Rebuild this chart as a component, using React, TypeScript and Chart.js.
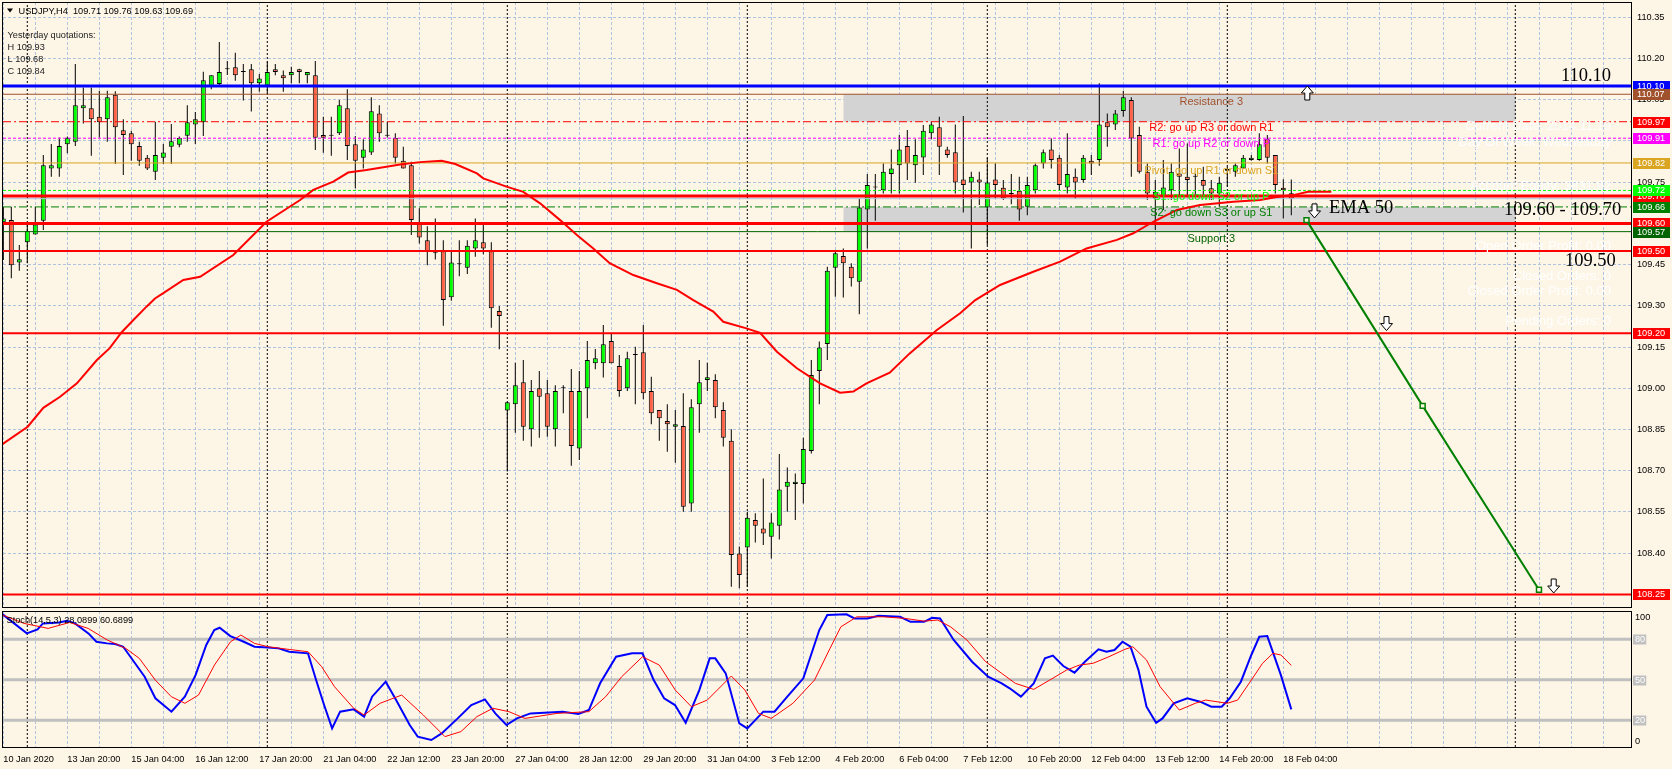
import React, { useEffect, useRef } from 'react';
import { Chart, registerables } from 'chart.js';

Chart.register(...registerables);

const SANS = '"Liberation Sans", Arial, sans-serif';
const SERIF = '"Liberation Serif", "Times New Roman", serif';
const BG = '#FDF5E6';
const GRID = '#B0C4DE';
const BULL = '#00FF00';
const BEAR = '#FF6347';

// ---------- USDJPY H4 candles, bar 0 = 10 Jan 2020 12:00 ... bar 161 = 18 Feb 2020 08:00
const opens = [109.604,109.612,109.458,109.531,109.560,109.610,109.800,109.800,109.888,109.897,
110.019,110.019,109.988,109.979,110.068,109.939,109.928,109.882,109.839,109.788,
109.839,109.879,109.886,109.919,109.960,109.968,110.100,110.107,110.161,110.168,
110.151,110.161,110.110,110.102,110.161,110.139,110.139,110.161,110.139,110.139,
109.922,109.919,109.928,110.019,109.888,109.839,109.858,110.000,109.919,109.912,
109.828,109.812,109.598,109.539,109.491,109.499,109.331,109.451,109.439,109.509,
109.531,109.499,109.281,108.919,108.942,109.022,108.851,109.000,108.982,108.851,
109.000,108.990,108.781,109.000,109.091,109.091,109.172,109.081,109.000,109.121,
109.131,108.990,108.921,108.881,108.860,108.863,108.581,108.942,109.030,109.030,
108.921,108.809,108.399,108.421,108.521,108.490,108.460,108.500,108.642,108.652,
108.652,108.772,109.063,109.161,109.439,109.481,109.442,109.388,109.651,109.731,
109.721,109.780,109.812,109.882,109.812,109.840,109.928,109.950,109.869,109.859,
109.760,109.749,109.760,109.658,109.760,109.730,109.709,109.719,109.661,109.721,
109.818,109.869,109.839,109.731,109.770,109.758,109.828,109.831,109.968,109.960,
110.009,110.049,109.922,109.788,109.691,109.697,109.721,109.782,109.770,109.770,
109.758,109.728,109.709,109.792,109.788,109.800,109.831,109.831,109.906,109.849,
109.730,109.710];
const highs = [109.661,109.661,109.521,109.606,109.661,109.849,109.889,109.913,109.916,110.180,
110.095,110.095,110.083,110.083,110.081,109.979,109.937,109.897,109.849,109.970,
109.889,109.962,109.916,110.030,110.005,110.152,110.139,110.260,110.191,110.221,
110.180,110.180,110.144,110.189,110.180,110.156,110.170,110.163,110.151,110.191,
109.988,109.988,110.049,110.088,109.918,109.906,110.059,110.030,109.970,109.928,
109.879,109.824,109.655,109.590,109.618,109.539,109.499,109.539,109.539,109.618,
109.594,109.531,109.299,108.949,109.093,109.103,109.030,109.063,109.030,109.011,
109.011,109.070,109.063,109.172,109.143,109.230,109.200,109.121,109.133,109.151,
109.230,109.042,108.921,108.942,108.921,108.982,108.960,109.103,109.093,109.051,
108.949,108.851,108.424,108.551,108.545,108.672,108.545,108.761,108.712,108.690,
108.820,109.103,109.170,109.442,109.503,109.509,109.455,109.691,109.780,109.780,
109.818,109.869,109.922,109.940,109.906,109.958,109.970,109.988,109.879,109.960,
109.991,109.788,109.788,109.839,109.818,109.758,109.780,109.770,109.770,109.818,
109.869,109.909,109.849,109.928,109.800,109.849,109.849,110.110,110.000,110.013,
110.083,110.059,109.952,109.818,109.758,109.831,109.818,109.873,109.891,109.782,
109.806,109.758,109.770,109.806,109.818,109.849,109.849,109.928,109.922,109.849,
109.761,109.760];
const lows = [109.467,109.400,109.428,109.455,109.560,109.576,109.770,109.770,109.855,109.882,
109.964,109.846,109.913,109.897,109.816,109.776,109.828,109.810,109.794,109.758,
109.816,109.816,109.877,109.897,109.889,109.918,110.088,110.100,110.140,110.119,
110.047,110.007,110.079,110.071,110.139,110.079,110.110,110.110,110.110,109.867,
109.857,109.846,109.922,109.831,109.728,109.800,109.849,109.897,109.913,109.818,
109.800,109.558,109.527,109.448,109.469,109.228,109.319,109.408,109.416,109.479,
109.488,109.220,109.142,108.697,108.838,108.809,108.788,108.820,108.824,108.788,
108.909,108.718,108.739,108.891,109.069,109.039,109.091,108.969,108.990,108.942,
108.960,108.869,108.809,108.769,108.729,108.551,108.551,108.838,108.990,108.891,
108.788,108.278,108.272,108.278,108.439,108.430,108.381,108.450,108.551,108.521,
108.581,108.763,108.942,109.103,109.333,109.330,109.370,109.269,109.509,109.610,
109.709,109.709,109.709,109.758,109.748,109.776,109.906,109.776,109.839,109.709,
109.640,109.509,109.667,109.521,109.691,109.685,109.670,109.610,109.630,109.709,
109.800,109.800,109.721,109.709,109.689,109.748,109.776,109.810,109.879,109.940,
109.988,109.770,109.782,109.685,109.576,109.649,109.685,109.697,109.697,109.697,
109.697,109.685,109.661,109.734,109.770,109.800,109.828,109.828,109.818,109.709,
109.618,109.630];
const closes = [109.618,109.448,109.470,109.572,109.596,109.812,109.812,109.882,109.912,110.030,
110.030,109.979,109.968,110.059,109.950,109.922,109.888,109.828,109.800,109.849,
109.858,109.899,109.911,109.968,109.979,110.121,110.139,110.151,110.161,110.139,
110.151,110.110,110.127,110.151,110.151,110.128,110.151,110.151,110.151,109.912,
109.912,109.919,110.030,109.882,109.828,109.869,110.008,109.928,109.919,109.839,
109.800,109.612,109.549,109.497,109.491,109.321,109.458,109.451,109.519,109.539,
109.509,109.291,109.263,108.949,109.011,108.860,108.990,108.969,108.860,108.990,
109.000,108.790,108.990,109.103,109.109,109.160,109.091,108.990,109.109,109.121,
108.982,108.909,108.891,108.869,108.869,108.569,108.931,109.022,109.040,108.931,
108.820,108.393,108.321,108.529,108.500,108.472,108.512,108.632,108.660,108.660,
108.779,109.048,109.148,109.428,109.491,109.455,109.400,109.658,109.740,109.731,
109.788,109.800,109.869,109.818,109.849,109.937,109.960,109.879,109.849,109.749,
109.740,109.770,109.749,109.749,109.740,109.691,109.707,109.651,109.740,109.812,
109.859,109.831,109.740,109.780,109.749,109.839,109.818,109.960,109.950,110.000,
110.059,109.909,109.788,109.709,109.715,109.731,109.788,109.770,109.758,109.770,
109.737,109.709,109.748,109.798,109.812,109.839,109.839,109.888,109.839,109.740,
109.721,109.690];

// ---------- EMA 50 (bar position / value)
const emaBars = [-0.4,3.05,5,7.1,9.2,11.7,13.3,14.8,16.05,17.9,18.96,20,22.5,24.6,28.75,32.9,37.1,38.75,41.25,43.1,
45.4,49.6,52.1,54.8,56.5,59.2,60,62.9,65,67.1,69.6,71.7,73.75,75.8,78.75,81.7,84.2,86.25,88.75,90,
92.9,94.6,96.7,99.2,102.1,104.6,106.25,107.9,110.8,113.3,116.7,119.6,121.5,124.6,128.75,132.1,135.4,139.2,141.25,143.75,
146.7,149.6,153.75,157.1,159,161.25,163.1,166];
const emaValues = [108.791,108.860,108.929,108.969,109.018,109.103,109.146,109.204,109.242,109.297,109.327,109.346,109.394,109.406,109.485,109.606,109.685,109.722,109.752,109.785,
109.794,109.814,109.823,109.828,109.816,109.782,109.764,109.734,109.715,109.673,109.612,109.558,109.509,109.455,109.412,109.382,109.358,109.321,109.279,109.242,
109.218,109.202,109.133,109.073,109.018,108.984,108.988,109.018,109.057,109.127,109.212,109.273,109.321,109.376,109.424,109.461,109.509,109.540,109.564,109.606,
109.649,109.667,109.679,109.685,109.695,109.703,109.715,109.715];

// ---------- Stochastic (14,5,3)
const stochKBars = [-0.08,2.94,4.28,4.95,6.96,7.96,8.96,10.64,11.64,12.98,13.99,14.99,16.33,17.67,19.01,21.02,22.69,24.03,25.37,26.37,
27.04,28.38,30.06,31.4,33.07,34.41,35.75,38.09,39.1,40.1,41.1,42.1,43.8,45.1,46.1,47.8,49.1,50.8,51.8,53.5,
54.8,56.8,58.5,60.2,61.5,62.9,64.2,65.9,69.9,71.9,73.2,74.6,76.6,78.6,79.9,81.3,82.6,83.96,85.3,87.0,
88.3,89.0,90.3,92.0,93.0,95.0,96.4,98.0,100.0,102.0,103.0,105.4,106.4,108.0,109.4,112.1,113.4,115.1,116.1,117.1,
118.8,121.1,123.1,124.8,125.8,127.2,128.8,130.2,131.2,132.5,133.9,135.2,136.9,137.9,138.9,139.9,140.9,141.9,142.9,144.1,
144.9,146.3,148.0,149.6,151.0,152.3,153.3,154.7,156.0,157.0,158.0,159.7,161.0];
const stochKValues = [98.5,84.4,87.4,91.8,92.5,93.8,91.8,84.4,78.2,77.0,76.5,74.5,63.4,52.3,36.3,26.4,37.5,53.5,75.8,86.9,
88.6,82.4,78.2,74.5,74.0,73.3,70.8,69.6,49.8,31.3,14.0,26.4,28.1,22.7,37.5,48.6,35.0,16.5,7.9,5.4,
10.3,21.4,31.3,35.5,25.1,16.5,21.4,25.1,26.4,24.7,27.6,47.4,67.1,69.6,69.6,49.8,36.3,31.3,18.2,42.4,
65.9,65.9,54.8,17.7,14.0,26.4,26.4,37.5,51.1,86.9,98.0,98.5,95.5,95.5,97.5,96.7,93.0,93.0,96.0,95.5,
79.5,63.4,52.3,47.4,43.7,37.5,47.4,65.9,67.9,60.2,55.3,63.4,72.6,70.8,72.1,78.2,74.5,57.2,30.1,18.2,
21.4,32.6,36.3,33.8,30.1,30.1,36.3,48.6,68.4,81.9,82.4,53.5,28.1];
const stochDBars = [-0.08,2.6,5.6,8.3,10.6,13.0,15.3,17.0,19.0,21.0,22.7,24.4,26.4,28.4,29.7,31.4,33.1,35.75,38.1,39.8,
41.4,43.8,45.1,47.1,49.8,52.5,55.2,57.2,59.2,61.2,63.2,65.2,69.2,73.2,75.3,77.3,79.9,82.0,84.0,86.0,
88.0,91.0,92.7,94.4,96.0,98.7,101.4,103.34,104.7,106.7,110.0,112.7,115.1,116.8,118.4,120.45,122.8,124.8,126.5,128.8,
130.8,132.9,134.5,136.2,138.2,140.2,141.2,142.9,144.6,147.0,149.0,150.3,153.0,154.3,156.0,157.4,158.7,159.7,161.0];
const stochDValues = [98.0,91.8,88.1,92.5,88.1,79.5,73.3,65.9,49.8,37.5,32.6,38.7,61.0,78.2,83.2,77.0,74.5,72.5,70.8,59.7,
44.9,28.9,23.9,32.6,38.7,23.9,7.9,11.6,22.7,28.9,26.4,21.4,25.1,26.4,37.5,52.3,67.1,60.9,42.4,30.1,
35.0,52.8,42.4,25.1,21.4,32.6,49.8,73.3,89.3,96.7,96.7,95.5,93.5,94.3,89.3,79.5,63.4,54.8,47.4,42.9,
49.8,57.2,60.9,62.2,67.1,72.6,74.5,64.7,44.9,27.6,32.6,35.0,32.6,35.0,49.8,62.2,69.6,68.4,60.7];
const stochLevels = [80, 50, 20];
const stochScaleLabels = [100, 80, 50, 20, 0];
const stochTitle = 'Stoch(14,5,3) 28.0899 60.6899';

// ---------- axes
const priceTicks = [110.35, 110.2, 110.05, 109.9, 109.75, 109.6, 109.45, 109.3, 109.15, 109.0, 108.85, 108.7, 108.55, 108.4];
const xLabelBars = [0, 8, 16, 24, 32, 40, 48, 56, 64, 72, 80, 88, 96, 104, 112, 120, 128, 136, 144, 152, 160];
const xLabels = ['10 Jan 2020', '13 Jan 20:00', '15 Jan 04:00', '16 Jan 12:00', '17 Jan 20:00', '21 Jan 04:00',
  '22 Jan 12:00', '23 Jan 20:00', '27 Jan 04:00', '28 Jan 12:00', '29 Jan 20:00', '31 Jan 04:00', '3 Feb 12:00',
  '4 Feb 20:00', '6 Feb 04:00', '7 Feb 12:00', '10 Feb 20:00', '12 Feb 04:00', '13 Feb 12:00', '14 Feb 20:00', '18 Feb 04:00'];
const weekSeparatorBars = [3, 33, 63, 93, 123, 153, 189];
const X_MIN = -0.0375;
const X_MAX = 203.5875;
const PRICE_MIN = 108.2041;
const PRICE_MAX = 110.4057;
const STOCH_MIN = 0.2;
const STOCH_MAX = 101;
const GRID_STEP_BARS = 4;

// ---------- horizontal levels
const levelValues = [109.69, 110.10, 110.07, 109.97, 109.91, 109.82, 109.70, 109.72, 109.66, 109.60, 109.57, 109.50, 109.20, 108.25];
const levelColors = ['#B0C4DE', '#0000FF', '#A0522D', '#FF0000', '#FF00FF', '#DAA520', '#FF0000', '#00FF00', '#008000', '#FF0000', '#006400', '#FF0000', '#FF0000', '#FF0000'];
const levelWidths = [1, 3, 1, 1, 1, 1, 3, 1, 1, 3, 1, 2, 2, 2];
const levelDashes = [[], [], [], [8, 3, 2, 3], [3, 2], [], [], [3, 2], [8, 3, 2, 3], [], [], [], [], []];
const levelHasLabel = [false, true, true, true, true, true, true, true, true, true, true, true, true, true];

// ---------- shaded zones
const zoneTops = [110.07, 109.66];
const zoneBottoms = [109.97, 109.57];
const ZONE_START_BAR = 105;
const ZONE_END_BAR = 189.05;

// ---------- trend line and arrows
const trendBars = [162.9, 177.42, 191.96];
const trendValues = [109.612, 108.936, 108.267];
const arrowBars = [163.0, 163.9, 172.9, 193.8];
const arrowPrices = [110.10, 109.62, 109.21, 108.255];
const arrowDirs = ['up', 'down', 'down', 'down'];

// ---------- text objects
const pivotTexts = ['Resistance 3', 'R2: go up R3 or down R1', 'R1: go up R2 or down P', 'Pivot: go up R1 or down S1',
  'S1: go down S2 or up P', 'S2: go down S3 or up S1', 'Support 3'];
const pivotTextPrices = [110.042, 109.946, 109.888, 109.790, 109.695, 109.637, 109.542];
const pivotTextColors = ['#A0522D', '#FF0000', '#FF00FF', '#DAA520', '#00FF00', '#008000', '#006400'];
const PIVOT_TEXT_BAR = 151;
const noteTexts = ['110.10', 'EMA 50', '109.60 - 109.70', '109.50'];
const noteBars = [194.7, 165.7, 187.6, 195.2];
const notePrices = [110.118, 109.637, 109.631, 109.446];
const headerText = 'USDJPY,H4  109.71 109.76 109.63 109.69';
const yesterdayLines = ['Yesterday quotations:', 'H 109.93', 'L 109.68', 'C 109.84'];
const infoLines = ['Current Date: 2014.11.19', 'Day Of Week: Wednesday', 'Account Equity: 3831.92',
  'Open Order Profit: 0.00', 'Closed Orders: 0', 'Closed Order Profit: 0.00', 'Pending Orders: 0'];
const infoLineY = [126.7, 142.3, 186.7, 246, 276, 291.7, 321];

// ---------- helpers
function gridTicks() {
  const t: any[] = [];
  for (let b = 0; b <= X_MAX; b += GRID_STEP_BARS) t.push({ value: b });
  return t;
}
function separatorData(lo: number, hi: number) {
  const pts: any[] = [];
  weekSeparatorBars.forEach((b) => {
    pts.push({ x: b, y: lo }, { x: b, y: hi }, { x: b, y: null });
  });
  return pts;
}
function hLine(v: number) {
  return [{ x: X_MIN, y: v }, { x: X_MAX, y: v }];
}
function drawArrow(ctx: any, x: number, tip: number, dir: string) {
  const d = dir === 'down' ? -1 : 1;
  const hb = tip + 7 * d;
  const se = tip + 14 * d;
  ctx.beginPath();
  ctx.moveTo(x, tip);
  ctx.lineTo(x + 6, hb);
  ctx.lineTo(x + 2.5, hb);
  ctx.lineTo(x + 2.5, se);
  ctx.lineTo(x - 2.5, se);
  ctx.lineTo(x - 2.5, hb);
  ctx.lineTo(x - 6, hb);
  ctx.closePath();
  ctx.fillStyle = '#FFFFFF';
  ctx.fill();
  ctx.lineWidth = 1;
  ctx.strokeStyle = '#000000';
  ctx.stroke();
}

const mainOverlay = {
  id: 'mainOverlay',
  afterDraw(chart: any) {
    const { ctx, chartArea: a } = chart;
    const xs = chart.scales.x;
    const ys = chart.scales.y;
    ctx.save();
    // frame
    ctx.strokeStyle = '#000';
    ctx.lineWidth = 1;
    ctx.strokeRect(a.left - 0.5, a.top + 0.5, a.right - a.left, a.bottom - a.top);
    // price labels of the level lines
    ctx.font = `9.2px ${SANS}`;
    ctx.textAlign = 'left';
    ctx.textBaseline = 'middle';
    levelValues.forEach((v, i) => {
      if (!levelHasLabel[i]) return;
      const y = Math.round(ys.getPixelForValue(v));
      ctx.fillStyle = levelColors[i];
      ctx.fillRect(a.right + 1, y - 5, 37, 11);
      ctx.fillStyle = '#FFFFFF';
      ctx.fillText(v.toFixed(2), a.right + 5, y + 0.5);
    });
    // pivot texts
    ctx.font = `11px ${SANS}`;
    ctx.textAlign = 'center';
    pivotTexts.forEach((t, i) => {
      ctx.fillStyle = pivotTextColors[i];
      ctx.fillText(t, xs.getPixelForValue(PIVOT_TEXT_BAR), ys.getPixelForValue(pivotTextPrices[i]));
    });
    // white account info texts
    ctx.font = `13px ${SANS}`;
    ctx.textAlign = 'right';
    ctx.fillStyle = '#FFFFFF';
    infoLines.forEach((t, i) => ctx.fillText(t, a.right - 21, infoLineY[i]));
    // serif notes
    ctx.font = `18.5px ${SERIF}`;
    ctx.textAlign = 'left';
    ctx.textBaseline = 'alphabetic';
    ctx.fillStyle = '#000';
    noteTexts.forEach((t, i) => ctx.fillText(t, xs.getPixelForValue(noteBars[i]), ys.getPixelForValue(notePrices[i])));
    // arrows
    arrowBars.forEach((b, i) => drawArrow(ctx, xs.getPixelForValue(b), ys.getPixelForValue(arrowPrices[i]), arrowDirs[i]));
    // header
    ctx.fillStyle = '#000';
    ctx.beginPath();
    ctx.moveTo(a.left + 4, a.top + 6.5);
    ctx.lineTo(a.left + 10, a.top + 6.5);
    ctx.lineTo(a.left + 7, a.top + 10.5);
    ctx.closePath();
    ctx.fill();
    ctx.font = `9.2px ${SANS}`;
    ctx.textBaseline = 'middle';
    ctx.fillText(headerText, a.left + 15.5, a.top + 9);
    ctx.fillStyle = '#222';
    yesterdayLines.forEach((t, i) => ctx.fillText(t, a.left + 4.5, a.top + 33 + i * 12));
    ctx.restore();
  },
};

const stochOverlay = {
  id: 'stochOverlay',
  afterDraw(chart: any) {
    const { ctx, chartArea: a } = chart;
    const ys = chart.scales.y;
    ctx.save();
    ctx.strokeStyle = '#000';
    ctx.lineWidth = 1;
    ctx.strokeRect(a.left - 0.5, a.top + 0.5, a.right - a.left, a.bottom - a.top);
    ctx.font = `9.2px ${SANS}`;
    ctx.textBaseline = 'middle';
    ctx.textAlign = 'left';
    ctx.fillStyle = '#000';
    ctx.fillText(stochTitle, a.left + 3.5, a.top + 9);
    stochScaleLabels.forEach((v) => {
      let y = ys.getPixelForValue(v);
      y = Math.max(a.top + 6, Math.min(a.bottom - 6, y));
      y = Math.round(y);
      const t = String(v);
      const w = ctx.measureText(t).width;
      if (stochLevels.indexOf(v) >= 0) {
        ctx.fillStyle = '#C0C0C0';
        ctx.fillRect(a.right + 1, y - 4.5, w + 3, 10);
        ctx.fillStyle = '#FFFFFF';
      } else {
        ctx.fillStyle = '#000';
      }
      ctx.fillText(t, a.right + 3, y + 0.5);
    });
    ctx.restore();
  },
};

function mainConfig(): any {
  const datasets: any[] = [];
  datasets.push({
    type: 'line', label: 'trend', data: trendBars.map((b, i) => ({ x: b, y: trendValues[i] })),
    borderColor: '#008000', borderWidth: 2, pointStyle: 'rect', pointRadius: 3.5, pointBorderWidth: 1.5,
    pointBorderColor: '#008000', pointBackgroundColor: BG, tension: 0, order: 1,
  });
  datasets.push({
    type: 'line', label: 'EMA 50', data: emaBars.map((b, i) => ({ x: b, y: emaValues[i] })),
    borderColor: '#FF0000', borderWidth: 2, pointRadius: 0, tension: 0, order: 2,
  });
  levelValues.forEach((v, i) => {
    datasets.push({
      type: 'line', label: 'level ' + v, data: hLine(v), borderColor: levelColors[i], borderWidth: levelWidths[i],
      borderDash: levelDashes[i], pointRadius: 0, tension: 0, order: 3,
    });
  });
  datasets.push({
    type: 'bar', label: 'bodies', data: opens.map((o, i) => ({ x: i, y: [o, closes[i]] })),
    backgroundColor: opens.map((o, i) => (closes[i] >= o ? BULL : BEAR)),
    borderColor: '#000', borderWidth: 1, borderSkipped: false, barThickness: 5, grouped: false,
    minBarLength: 1, inflateAmount: 0, order: 4,
  });
  datasets.push({
    type: 'bar', label: 'wicks', data: opens.map((o, i) => ({ x: i, y: [lows[i], highs[i]] })),
    backgroundColor: '#000', borderWidth: 0, barThickness: 1, grouped: false, inflateAmount: 0, order: 5,
  });
  datasets.push({
    type: 'line', label: 'weeks', data: separatorData(PRICE_MIN, PRICE_MAX), borderColor: '#000', borderWidth: 1,
    borderDash: [2, 2], pointRadius: 0, spanGaps: false, order: 6,
  });
  zoneTops.forEach((v, i) => {
    datasets.push({
      type: 'line', label: 'zone', data: [{ x: ZONE_START_BAR, y: v }, { x: ZONE_END_BAR, y: v }],
      borderWidth: 0, borderColor: 'rgba(0,0,0,0)', backgroundColor: '#D3D3D3', pointRadius: 0,
      fill: { value: zoneBottoms[i] }, order: 7,
    });
  });
  return {
    type: 'bar',
    data: { datasets },
    options: {
      responsive: false, animation: false, devicePixelRatio: 1, events: [],
      layout: { padding: { left: 3, top: 2, right: 0, bottom: 2 }, autoPadding: false },
      plugins: { legend: { display: false }, tooltip: { enabled: false } },
      scales: {
        x: {
          type: 'linear', min: X_MIN, max: X_MAX, offset: false,
          grid: { offset: false, color: GRID, lineWidth: 1, drawTicks: false },
          border: { display: false, dash: [3, 2] },
          ticks: { display: false },
          afterBuildTicks: (s: any) => { s.ticks = gridTicks(); },
          afterFit: (s: any) => { s.height = 0; s.paddingLeft = 0; s.paddingRight = 0; },
        },
        y: {
          type: 'linear', position: 'right', min: PRICE_MIN, max: PRICE_MAX, beginAtZero: false,
          grid: { color: GRID, lineWidth: 1, drawTicks: false },
          border: { display: false, dash: [3, 2] },
          ticks: {
            color: '#000', font: { family: SANS, size: 9.2 }, padding: 5, autoSkip: false,
            callback: (v: any) => Number(v).toFixed(2),
          },
          afterBuildTicks: (s: any) => { s.ticks = priceTicks.map((v) => ({ value: v })); },
          afterFit: (s: any) => { s.width = 40; s.paddingTop = 0; s.paddingBottom = 0; },
        },
      },
    },
    plugins: [mainOverlay],
  };
}

function stochConfig(): any {
  const datasets: any[] = [];
  datasets.push({
    label: '%D', data: stochDBars.map((b, i) => ({ x: b, y: stochDValues[i] })),
    borderColor: '#FF0000', borderWidth: 1, pointRadius: 0, tension: 0, order: 1,
  });
  datasets.push({
    label: '%K', data: stochKBars.map((b, i) => ({ x: b, y: stochKValues[i] })),
    borderColor: '#0000FF', borderWidth: 2, pointRadius: 0, tension: 0, order: 2,
  });
  stochLevels.forEach((v) => {
    datasets.push({ label: 'lvl' + v, data: hLine(v), borderColor: '#C0C0C0', borderWidth: 3, pointRadius: 0, order: 3 });
  });
  datasets.push({
    label: 'weeks', data: separatorData(STOCH_MIN, STOCH_MAX), borderColor: '#000', borderWidth: 1,
    borderDash: [2, 2], pointRadius: 0, spanGaps: false, order: 4,
  });
  return {
    type: 'line',
    data: { datasets },
    options: {
      responsive: false, animation: false, devicePixelRatio: 1, events: [],
      layout: { padding: { left: 3, top: 2, right: 0, bottom: 0 }, autoPadding: false },
      plugins: { legend: { display: false }, tooltip: { enabled: false } },
      scales: {
        x: {
          type: 'linear', min: X_MIN, max: X_MAX, offset: false,
          grid: { offset: false, color: GRID, lineWidth: 1, drawTicks: false },
          border: { display: false, dash: [3, 2] },
          ticks: {
            autoSkip: false, maxRotation: 0, minRotation: 0, align: 'start', padding: 7,
            color: '#000', font: { family: SANS, size: 9.2 },
            callback: (v: any) => {
              const k = xLabelBars.indexOf(Number(v));
              return k >= 0 ? xLabels[k] : '';
            },
          },
          afterBuildTicks: (s: any) => { s.ticks = gridTicks(); },
          afterFit: (s: any) => { s.height = 22; s.paddingLeft = 0; s.paddingRight = 0; },
        },
        y: {
          type: 'linear', position: 'right', min: STOCH_MIN, max: STOCH_MAX,
          grid: { display: false }, border: { display: false }, ticks: { display: false },
          afterFit: (s: any) => { s.width = 40; s.paddingTop = 0; s.paddingBottom = 0; },
        },
      },
    },
    plugins: [stochOverlay],
  };
}

export default function App() {
  const mainRef = useRef<HTMLCanvasElement>(null);
  const stochRef = useRef<HTMLCanvasElement>(null);
  useEffect(() => {
    const main = new Chart(mainRef.current as any, mainConfig());
    const stoch = new Chart(stochRef.current as any, stochConfig());
    return () => {
      main.destroy();
      stoch.destroy();
    };
  }, []);
  return (
    <div style={{ position: 'fixed', left: 0, top: 0, width: 1672, height: 769, background: BG, overflow: 'hidden' }}>
      <canvas ref={mainRef} width={1672} height={609} style={{ position: 'absolute', left: 0, top: 0 }} />
      <canvas ref={stochRef} width={1672} height={160} style={{ position: 'absolute', left: 0, top: 609 }} />
    </div>
  );
}
